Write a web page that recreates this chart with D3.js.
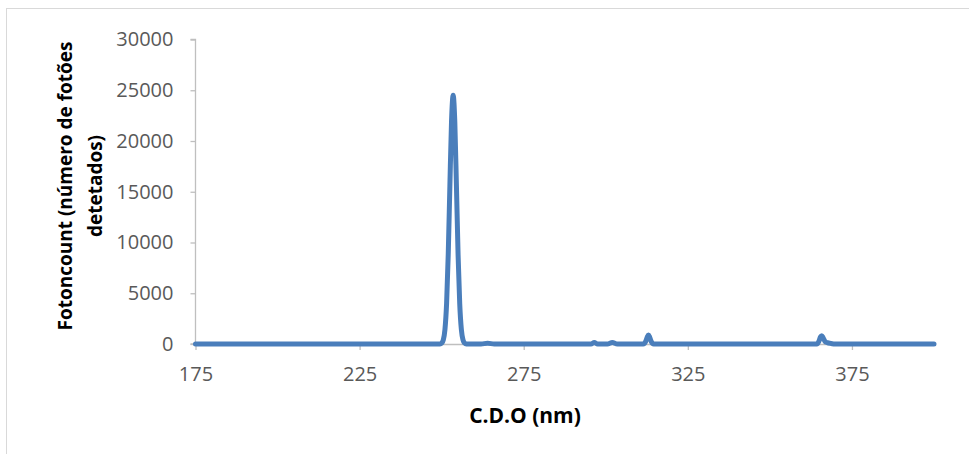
<!DOCTYPE html>
<html>
<head>
<meta charset="utf-8">
<script src="https://cdn.jsdelivr.net/npm/d3@7"></script>
<style>
  body { margin: 0; background: #fff; }
  svg { display: block; }
</style>
</head>
<body>
<div id="chart"></div>
<script>
// Spectrum data
var wavelength = [175, 200, 225, 245, 249.5, 250, 250.5, 251, 251.5, 252, 252.5, 253, 253.5,
    254, 254.5, 255, 255.5, 256, 256.5, 257, 257.5, 262, 264, 266, 280, 295.5, 296.5, 297.5,
    300.5, 302, 303.5, 311.4, 312.2, 312.6, 313, 313.4, 313.8, 314.6, 340, 364.3, 365, 365.4,
    365.8, 366.2, 366.8, 367.5, 368.5, 370, 385, 400];
var counts = [0, 0, 0, 0, 0, 90, 410, 1430, 3980, 8800, 15550, 21900, 24500,
    21900, 15550, 8800, 3980, 1430, 410, 90, 0, 0, 80, 0, 0, 0, 150, 0,
    0, 150, 0, 0, 280, 650, 880, 650, 280, 0, 0, 0, 330, 700,
    820, 620, 250, 130, 60, 0, 0, 0];

var xTicks = [175, 225, 275, 325, 375];
var yTicks = [0, 5000, 10000, 15000, 20000, 25000, 30000];

var W = 969, H = 454;
var data = wavelength.map(function (d, i) { return { x: d, y: counts[i] }; });

var svg = d3.select('#chart').append('svg')
    .attr('width', W)
    .attr('height', H)
;

// chart frame
svg.append('rect')
    .attr('x', 6.5)
    .attr('y', 8.5)
    .attr('width', W + 10)
    .attr('height', H + 10)
    .attr('fill', '#fff')
    .attr('stroke', '#d9d9d9')
;

var x = d3.scaleLinear().domain([175, 400]).range([195.5, 934]);
var y = d3.scaleLinear().domain([0, 30000]).range([344, 39.5]);

// y axis
var yAxis = svg.append('g')
    .attr('transform', 'translate(' + x(175) + ',0)')
    .call(d3.axisLeft(y).tickValues(yTicks).tickSize(5).tickPadding(17).tickFormat(d3.format('d')))
;
// x axis
var xAxis = svg.append('g')
    .attr('transform', 'translate(0,' + y(0) + ')')
    .call(d3.axisBottom(x).tickValues(xTicks).tickSize(6).tickSizeOuter(0).tickPadding(17))
;

[yAxis, xAxis].forEach(function (g) {
    g.select('.domain').attr('stroke', '#bfbfbf').attr('stroke-width', 1.3);
    g.selectAll('.tick line').attr('stroke', '#bfbfbf').attr('stroke-width', 1.3);
    g.selectAll('.tick text')
        .attr('fill', '#595959')
        .attr('font-family', '"Open Sans", sans-serif')
        .attr('font-size', '20px');
});
yAxis.select('.domain').attr('d', 'M-5,' + y(30000) + 'H0V' + y(0) + 'H-5');

// line
var line = d3.line()
    .x(function (d) { return x(d.x); })
    .y(function (d) { return y(d.y); })
    .curve(d3.curveMonotoneX)
;
svg.append('path')
    .datum(data)
    .attr('d', line)
    .attr('fill', 'none')
    .attr('stroke', '#4a7ebb')
    .attr('stroke-width', 5)
    .attr('stroke-linejoin', 'round')
    .attr('stroke-linecap', 'round')
;

// axis titles
svg.append('text')
    .attr('x', 525)
    .attr('y', 423)
    .attr('text-anchor', 'middle')
    .attr('font-family', '"Open Sans", sans-serif')
    .attr('font-weight', 'bold')
    .attr('font-size', '21px')
    .attr('fill', '#000')
    .text('C.D.O (nm)')
;

var yTitle = svg.append('text')
    .attr('transform', 'translate(72,186) rotate(-90)')
    .attr('text-anchor', 'middle')
    .attr('font-family', '"Open Sans", sans-serif')
    .attr('font-weight', 'bold')
    .attr('font-size', '19px')
    .attr('fill', '#000')
;
yTitle.append('tspan').attr('x', 0).attr('dy', 0).text('Fotoncount (número de fotões');
yTitle.append('tspan').attr('x', 0).attr('dy', 30).text('detetados)');
</script>
</body>
</html>
